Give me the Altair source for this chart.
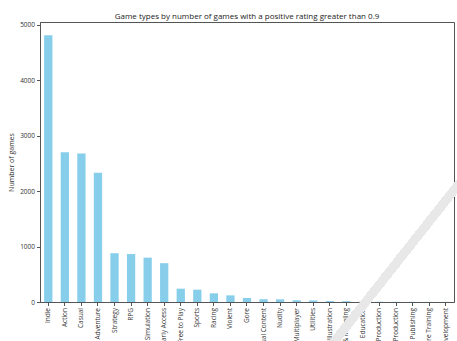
import altair as alt
import pandas as pd

# Game genres and how many games in each have a positive rating above 0.9
genres = [
    "Indie", "Action", "Casual", "Adventure", "Strategy", "RPG", "Simulation",
    "Early Access", "Free to Play", "Sports", "Racing", "Violent", "Gore",
    "Sexual Content", "Nudity", "Massively Multiplayer", "Utilities",
    "Design & Illustration", "Animation & Modeling", "Education",
    "Video Production", "Audio Production", "Web Publishing",
    "Software Training", "Game Development",
]
counts = [
    4810, 2700, 2680, 2330, 880, 865, 800,
    700, 240, 222, 156, 120, 72,
    50, 48, 30, 28,
    18, 15, 6,
    4, 3, 3,
    2, 2,
]

df = pd.DataFrame({"genre": genres, "games": counts})

FONT = "Open Sans"

bars = alt.Chart(df).mark_bar(color="#87CEEB").encode(
    x=alt.X(
        "genre:N",
        sort=genres,
        title=None,
        scale=alt.Scale(paddingInner=0.5, paddingOuter=0.25),
        axis=alt.Axis(labelAngle=-90, labelAlign="right", labelBaseline="middle",
                      labelPadding=2, tickSize=3.5, labelOverlap=False,
                      labelFont=FONT, labelFontSize=6.5, labelColor="#333"),
    ),
    y=alt.Y(
        "games:Q",
        title="Number of games",
        scale=alt.Scale(domain=[0, 5050], nice=False),
        axis=alt.Axis(values=[0, 1000, 2000, 3000, 4000, 5000], format="d",
                      grid=False, tickSize=3.5, labelPadding=2, titlePadding=5,
                      labelFont=FONT, labelFontSize=6.5, labelColor="#333",
                      titleFont=FONT, titleFontSize=7, titleFontWeight="normal",
                      titleColor="#333"),
    ),
)

# light diagonal stripe running across the lower right corner
stripe = alt.Chart(df).mark_rule(color="#e8e8e8", strokeWidth=8, opacity=0.9).encode(
    x=alt.value(283), x2=alt.value(433),
    y=alt.value(334), y2=alt.value(144),
)

chart = alt.layer(bars, stripe).properties(
    width=414,
    height=280,
    title=alt.TitleParams(
        "Game types by number of games with a positive rating greater than 0.9",
        fontSize=8, fontWeight="normal", font=FONT, color="#222", offset=1,
    ),
    autosize=alt.AutoSizeParams(type="none"),
    padding={"left": 40, "top": 22, "right": 3, "bottom": 39},
    background="white",
).configure_view(
    stroke="#555", strokeWidth=1,
).configure_axis(
    domainColor="#555", tickColor="#555",
)

chart.save("out.html", embed_options={"renderer": "svg", "actions": False})
